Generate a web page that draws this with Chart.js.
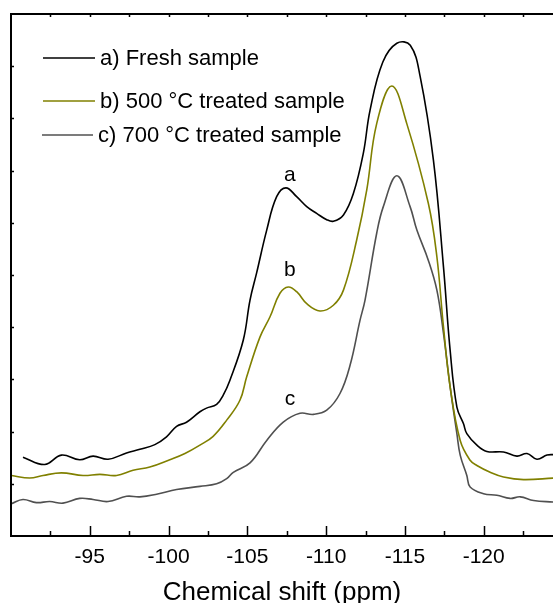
<!DOCTYPE html>
<html>
<head>
<meta charset="utf-8">
<script src="https://cdn.jsdelivr.net/npm/chart.js@4/dist/chart.umd.min.js"></script>
<style>
  html, body { margin: 0; padding: 0; background: #fff; }
  #wrap { width: 553px; height: 603px; }
</style>
</head>
<body>
<div id="wrap"><canvas id="nmrChart"></canvas></div>
<script>
/* 29Si NMR spectra - fresh vs heat treated samples */

// each trace keeps its own ppm list
const ppmA = [-90.76, -92.14, -93.2, -94.36, -95.21, -96.16, -97.33, -98.18, -99.13, -99.87,
    -100.51, -101.14, -101.99, -102.41, -103.05, -103.47, -103.89, -104.74, -105.17, -105.59,
    -106.23, -106.86, -107.45, -108.13, -108.77, -109.4, -110.04, -110.46, -111.1, -111.73,
    -112.36, -112.79, -113.6, -114.49, -115.34, -115.97, -116.81, -117.45, -117.87, -118.3,
    -118.72, -118.93, -119.57, -120.2, -121.26, -122.11, -122.75, -123.38, -124.02, -124.42];
const valA = [1.51, 1.37, 1.55, 1.46, 1.53, 1.47, 1.59, 1.66, 1.75, 1.9,
    2.1, 2.18, 2.38, 2.45, 2.52, 2.7, 2.98, 3.75, 4.52, 5.04,
    5.86, 6.5, 6.67, 6.5, 6.31, 6.18, 6.06, 6.03, 6.15, 6.56,
    7.33, 8.16, 9.08, 9.44, 9.4, 8.8, 7.2, 5.15, 3.56, 2.47,
    2.15, 1.96, 1.74, 1.62, 1.61, 1.53, 1.58, 1.47, 1.55, 1.56];

const ppmB = [-90.03, -91.19, -92.03, -93.2, -94.57, -95.64, -96.7, -97.75, -98.81, -100.08,
    -101.04, -101.99, -102.83, -103.69, -104.53, -104.96, -105.8, -106.44, -107.07, -107.6,
    -108.13, -108.77, -109.61, -110.46, -111.1, -111.94, -112.58, -113.21, -114.17, -115.12,
    -116.49, -117.03, -117.45, -117.87, -118.51, -119.14, -119.57, -120.41, -121.26, -122.53, -124.42];
const valB = [1.16, 1.11, 1.16, 1.21, 1.16, 1.18, 1.16, 1.26, 1.32, 1.46,
    1.58, 1.74, 1.91, 2.22, 2.6, 3.05, 3.81, 4.2, 4.65, 4.77,
    4.68, 4.45, 4.31, 4.42, 4.71, 5.67, 6.63, 7.9, 8.62, 7.9,
    6.37, 5.35, 4.0, 2.86, 1.83, 1.45, 1.35, 1.22, 1.13, 1.08, 1.11];

const ppmC = [-90.03, -90.76, -91.61, -92.46, -93.3, -94.36, -95.21, -96.16, -97.33, -98.18,
    -99.24, -100.51, -101.99, -103.05, -103.69, -104.11, -105.17, -106.23, -107.28, -108.34,
    -109.19, -110.04, -110.88, -111.52, -112.15, -112.47, -113.21, -113.63, -114.49, -115.33,
    -115.76, -116.49, -117.03, -117.45, -117.87, -118.3, -118.51, -118.93, -119.14, -119.99,
    -120.84, -121.68, -122.32, -123.17, -124.42];
const valC = [0.62, 0.7, 0.64, 0.66, 0.63, 0.72, 0.7, 0.66, 0.76, 0.75,
    0.8, 0.89, 0.95, 1.0, 1.1, 1.22, 1.4, 1.83, 2.18, 2.35,
    2.33, 2.41, 2.73, 3.27, 4.13, 4.52, 5.8, 6.31, 6.9, 6.31,
    5.86, 5.28, 4.71, 3.88, 2.86, 1.96, 1.55, 1.16, 0.94, 0.81,
    0.78, 0.72, 0.75, 0.68, 0.65];

const seriesNames = ["a) Fresh sample", "b) 500 \u00B0C treated sample", "c) 700 \u00B0C treated sample"];
const seriesColors = ["#000000", "#808000", "#505050"];
const majorTicks = [-95, -100, -105, -110, -115, -120];
const peakLabels = ["a", "b", "c"];
const peakLabelPpm = [-107.7, -107.7, -107.7];
const peakLabelVal = [6.91, 5.09, 2.62];

const FONT = "'Liberation Sans', Arial, Helvetica, sans-serif";

function toPoints(xs, ys) {
    return xs.map((x, i) => ({ x: x, y: ys[i] }));
}

// frame, inward ticks, legend and peak letters
const framePlugin = {
    id: "frame",
    afterDraw(chart) {
        const ctx = chart.ctx;
        const area = chart.chartArea;
        const xs = chart.scales.x;
        const ys = chart.scales.y;

        ctx.save();
        ctx.strokeStyle = "#000";
        ctx.lineWidth = 2;
        ctx.beginPath();
        ctx.moveTo(area.right + 2, area.top);
        ctx.lineTo(area.left, area.top);
        ctx.lineTo(area.left, area.bottom);
        ctx.lineTo(area.right + 2, area.bottom);
        ctx.stroke();

        // x ticks (bottom major/minor, top minor)
        ctx.lineWidth = 1.5;
        for (let v = -92.5; v >= -125; v -= 2.5) {
            const px = Math.round(xs.getPixelForValue(v)) + 0.5;
            if (px < area.left || px > area.right) continue;
            const major = Math.abs(v % 5) < 0.01;
            ctx.beginPath();
            ctx.moveTo(px, area.bottom);
            ctx.lineTo(px, area.bottom - (major ? 10 : 5));
            ctx.moveTo(px, area.top);
            ctx.lineTo(px, area.top + 3);
            ctx.stroke();
        }
        // y ticks (tiny)
        for (let v = 1; v < 10; v++) {
            const py = Math.round(ys.getPixelForValue(v)) + 0.5;
            ctx.beginPath();
            ctx.moveTo(area.left, py);
            ctx.lineTo(area.left + 3, py);
            ctx.stroke();
        }

        // legend
        const legendY = [58, 101, 135];
        const lineX = [[43, 95], [43, 95], [42, 93]];
        ctx.font = "22px " + FONT;
        ctx.textBaseline = "middle";
        ctx.textAlign = "left";
        seriesNames.forEach((name, i) => {
            ctx.strokeStyle = seriesColors[i];
            ctx.lineWidth = 1.5;
            ctx.beginPath();
            ctx.moveTo(lineX[i][0], legendY[i]);
            ctx.lineTo(lineX[i][1], legendY[i]);
            ctx.stroke();
            ctx.fillStyle = "#000";
            ctx.fillText(name, lineX[i][1] + 5, legendY[i] + 1);
        });

        // peak letters
        ctx.font = "21px " + FONT;
        ctx.textAlign = "center";
        peakLabels.forEach((t, i) => {
            ctx.fillText(t, xs.getPixelForValue(peakLabelPpm[i]), ys.getPixelForValue(peakLabelVal[i]));
        });
        ctx.restore();
    }
};

const lineStyle = {
    borderWidth: 1.6,
    pointRadius: 0,
    fill: false,
    tension: 0.4
};

new Chart(document.getElementById("nmrChart"), {
    type: "line",
    data: {
        datasets: [
            { label: seriesNames[0], data: toPoints(ppmA, valA), borderColor: seriesColors[0], ...lineStyle },
            { label: seriesNames[1], data: toPoints(ppmB, valB), borderColor: seriesColors[1], ...lineStyle },
            { label: seriesNames[2], data: toPoints(ppmC, valC), borderColor: seriesColors[2], ...lineStyle }
        ]
    },
    options: {
        responsive: true,
        maintainAspectRatio: false,
        animation: false,
        layout: { padding: { left: 11, top: 14, right: 0, bottom: 0 } },
        plugins: {
            legend: { display: false },
            tooltip: { enabled: false }
        },
        scales: {
            x: {
                type: "linear",
                min: -124.4,
                max: -90,
                reverse: true,
                grid: { display: false },
                border: { display: false },
                afterBuildTicks: (scale) => {
                    scale.ticks = majorTicks.map(v => ({ value: v }));
                },
                afterFit: (scale) => { scale.height = 67; },
                ticks: {
                    color: "#000",
                    maxRotation: 0,
                    padding: 1,
                    font: { family: FONT, size: 21 }
                },
                title: {
                    display: true,
                    text: "Chemical shift (ppm)",
                    color: "#000",
                    font: { family: FONT, size: 26, lineHeight: 1 },
                    padding: { top: 0, bottom: -3 }
                }
            },
            y: {
                display: false,
                min: 0,
                max: 10
            }
        }
    },
    plugins: [framePlugin]
});
</script>
</body>
</html>
